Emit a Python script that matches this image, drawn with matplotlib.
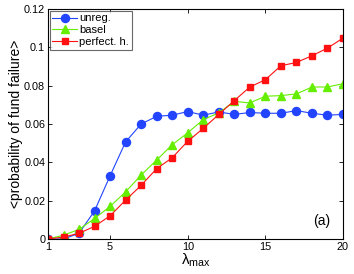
import matplotlib
matplotlib.use('Agg')
import matplotlib.pyplot as plt

plt.rcParams['font.family'] = ['Liberation Sans', 'DejaVu Sans']
plt.rcParams['mathtext.fontset'] = 'custom'
plt.rcParams['mathtext.rm'] = 'Liberation Sans'
plt.rcParams['mathtext.it'] = 'Liberation Sans'

lam_max = list(range(1, 21))
unreg = [0.0, 0.0, 0.003, 0.0147, 0.033, 0.0507, 0.060, 0.064, 0.0646, 0.0665,
         0.0646, 0.0663, 0.065, 0.066, 0.0656, 0.0656, 0.067, 0.0656, 0.0646, 0.065]
basel = [0.0, 0.002, 0.005, 0.0107, 0.017, 0.0246, 0.0334, 0.0412, 0.0492, 0.0554,
         0.0623, 0.0658, 0.0718, 0.071, 0.0745, 0.0748, 0.0757, 0.0793, 0.0793, 0.081]
perfect = [0.0, 0.001, 0.003, 0.0066, 0.0121, 0.0203, 0.028, 0.0367, 0.0424, 0.051,
           0.0577, 0.065, 0.0722, 0.0793, 0.0831, 0.0904, 0.0921, 0.0956, 0.0996, 0.1048]

x_ticks = [1, 5, 10, 15, 20]
y_ticks = [0, 0.02, 0.04, 0.06, 0.08, 0.1, 0.12]
y_tick_labels = ['0', '0.02', '0.04', '0.06', '0.08', '0.1', '0.12']

fig = plt.figure(figsize=(3.54, 2.74), dpi=100)
ax = fig.add_axes([48 / 354, 35 / 274, 295 / 354, 230 / 274])

ax.plot(lam_max, unreg, '-o', color='#2244ff', lw=0.8, ms=5.8, label='unreg.')
ax.plot(lam_max, basel, '-^', color='#66ee00', lw=0.8, ms=6.2, label='basel')
ax.plot(lam_max, perfect, '-s', color='#ff1111', lw=0.8, ms=5.0, label='perfect. h.')

ax.set_xlim(1, 20)
ax.set_ylim(0, 0.12)
ax.set_xticks(x_ticks)
ax.set_yticks(y_ticks)
ax.set_yticklabels(y_tick_labels)
ax.tick_params(direction='in', length=3, width=0.6, labelsize=7.8, pad=2,
               top=True, right=True)
for s in ax.spines.values():
    s.set_linewidth(0.8)

ax.set_xlabel(r'$\lambda_{\rm max}$', fontsize=11, labelpad=0)
ax.set_ylabel('<probability of fund failure>', fontsize=10, labelpad=1)
ax.text(18.6, 0.0095, '(a)', fontsize=10, ha='center', va='center')

leg = ax.legend(loc='upper left', fontsize=8, frameon=True, fancybox=False,
                borderpad=0.25, labelspacing=0.15, handlelength=2.2,
                handletextpad=0.2, borderaxespad=0.15)
leg.get_frame().set_edgecolor('#444444')
leg.get_frame().set_linewidth(0.8)

fig.savefig('out.png', dpi=100)
